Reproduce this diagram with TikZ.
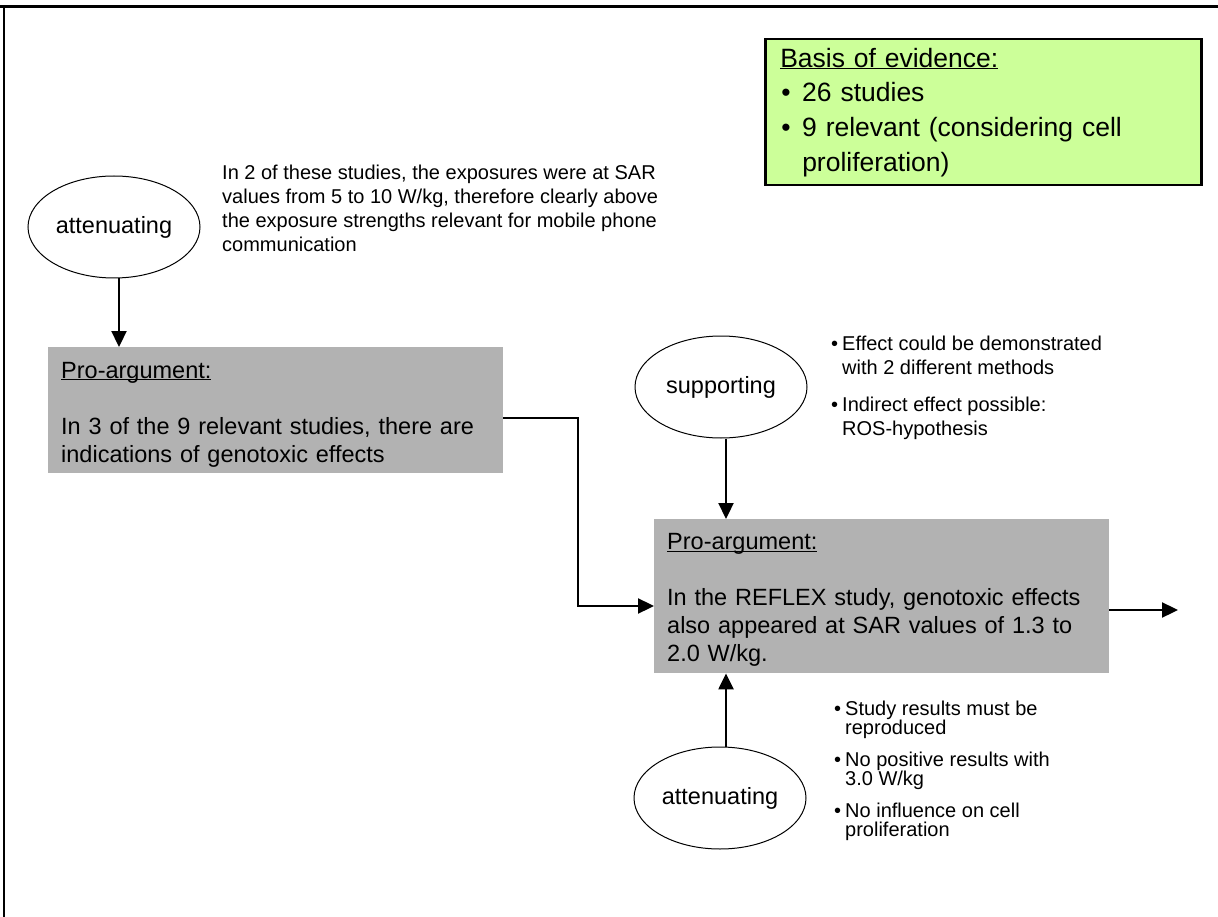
\documentclass[tikz,border=0pt]{standalone}
\usepackage{fontspec}
\setmainfont{Liberation Sans}
\usetikzlibrary{shapes.geometric,arrows.meta}
\definecolor{evgreen}{RGB}{204,255,153}
\definecolor{progrey}{RGB}{178,178,178}
\tikzset{
  probox/.style={fill=progrey, draw=none, anchor=north west, inner xsep=13pt, inner ysep=0pt,
    text width=429pt, minimum height=126pt, align=left,
    font=\fontsize{23.5}{28}\selectfont},
  evbox/.style={fill=evgreen, draw=black, line width=2.5pt, anchor=north west, inner xsep=15pt,
    inner ysep=0pt, text width=406pt, minimum height=146pt, align=left,
    font=\fontsize{26.5}{34.7}\selectfont},
  weight/.style={ellipse, draw=black, line width=1pt, minimum width=172pt, minimum height=102pt,
    inner sep=0pt, font=\fontsize{23.5}{28}\selectfont},
  note/.style={anchor=base west, inner sep=0pt, align=left},
  conn/.style={line width=2.3pt, -{Triangle[length=16pt,width=15pt]}},
}
\newcommand{\bul}[1]{\makebox[#1][l]{\hspace*{1pt}\textbullet}}
\newcommand{\ulhead}[1]{\underline{\raisebox{0pt}[\height][0pt]{#1}}}
\begin{document}
\begin{tikzpicture}[x=1pt,y=-1pt]
\useasboundingbox (0,0) rectangle (1218,917);
% frame
\draw[line width=2.5pt] (0,6.5) -- (1218,6.5);
\draw[line width=1.2pt] (4,6) -- (4,917);

% evidence box
\node[evbox] (ev) at (764,38) {\ulhead{Basis of evidence:}\\
\bul{22pt}26 studies\\
\bul{22pt}9 relevant (considering cell\\
\hspace*{22pt}proliferation)};

% upper left
\node[weight] (a1) at (114,227) {attenuating};
\node[note, font=\fontsize{20}{24.3}\selectfont] (t1) at (222,252)
  {In 2 of these studies, the exposures were at SAR\\
   values from 5 to 10 W/kg, therefore clearly above\\
   the exposure strengths relevant for mobile phone\\
   communication};
\node[probox] (p1) at (48,347) {\rule{0pt}{25pt}\ulhead{Pro-argument:}\\[28pt]
In 3 of the 9 relevant studies, there are\\
indications of genotoxic effects};

% right column
\node[weight] (s1) at (721,387) {supporting};
\node[note, font=\fontsize{20}{24}\selectfont] (t2) at (830,435)
  {\bul{12pt}Effect could be demonstrated\\
   \hspace*{12pt}with 2 different methods\\[13pt]
   \bul{12pt}Indirect effect possible:\\
   \hspace*{12pt}ROS-hypothesis};
\node[probox, minimum height=154pt] (p2) at (654,519) {\rule{0pt}{24pt}\ulhead{Pro-argument:}\\[28pt]
In the REFLEX study, genotoxic effects\\
also appeared at SAR values of 1.3 to\\
2.0 W/kg.};
\node[weight] (a2) at (720,798) {attenuating};
\node[note, font=\fontsize{20}{19}\selectfont] (t3) at (833,836)
  {\bul{12pt}Study results must be\\
   \hspace*{12pt}reproduced\\[13pt]
   \bul{12pt}No positive results with\\
   \hspace*{12pt}3.0 W/kg\\[13pt]
   \bul{12pt}No influence on cell\\
   \hspace*{12pt}proliferation};

% connectors
\coordinate (j) at (578,606);
\coordinate (out) at (1178,610);
\draw[conn] ([xshift=5pt]a1.south) -- ([xshift=5pt]a1.south |- p1.north);
\draw[conn] ([yshift=-8pt]p1.east) -| (j) -- (j -| p2.west);
\draw[conn] ([xshift=5pt]s1.south) -- ([xshift=5pt]s1.south |- p2.north);
\draw[conn] ([xshift=6pt]a2.north) -- ([xshift=6pt]a2.north |- p2.south);
\draw[conn] (p2.east |- out) -- (out);
\end{tikzpicture}
\end{document}
